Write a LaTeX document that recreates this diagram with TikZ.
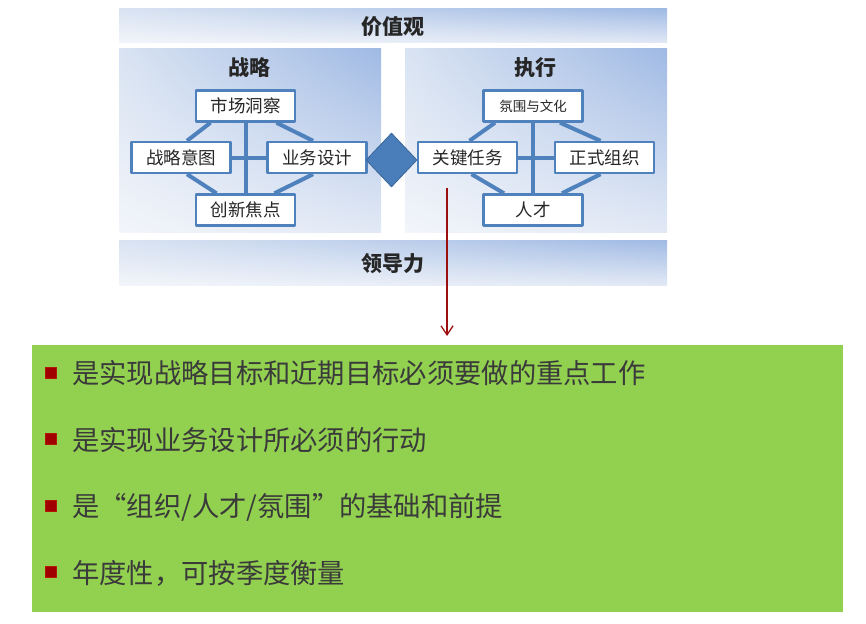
\documentclass[tikz,border=0pt]{standalone}
\usepackage{fontspec}
\setmainfont{Noto Sans CJK SC}
\usetikzlibrary{shapes.geometric,arrows.meta,calc,shadings}
\definecolor{boxblue}{HTML}{4F81BD}
\definecolor{diamondblue}{HTML}{4A7EBB}
\definecolor{bandblue}{HTML}{A0BAE4}
\definecolor{bandmid}{HTML}{D9E3F2}
\definecolor{bandpale}{HTML}{E2E9F5}
\definecolor{bandlight}{HTML}{F2F5FA}
\definecolor{arrowred}{HTML}{9B0F0F}
\definecolor{bulletred}{HTML}{A00000}
\definecolor{panelgreen}{HTML}{92D050}
\definecolor{itemgray}{HTML}{3A3A3A}
\begin{document}
\begin{tikzpicture}[x=1pt, y=-1pt, line join=round,
  band/.style={upper left=bandmid, upper right=bandblue, lower left=bandlight, lower right=bandpale},
  head/.style={font=\fontsize{21}{21}\selectfont\bfseries, text=black!85},
  box/.style={draw=boxblue, line width=2.4pt, fill=white, minimum width=99pt, minimum height=31pt, inner sep=0pt, font=\fontsize{17.5}{17.5}\selectfont, text=black!85},
  link/.style={draw=boxblue, line width=4pt},
  bullet/.style={fill=bulletred, draw=bulletred!80!orange, line width=0.4pt, minimum size=11pt, inner sep=0pt},
  item/.style={anchor=west, inner sep=0pt, font=\fontsize{27.3}{27.3}\selectfont, text=itemgray}]
	\useasboundingbox (0,0) rectangle (866,623);
	% background bands and panels
	\shade[band] (119,9) rectangle (667,43);
	\shade[band] (119,49) rectangle (381,232);
	\shade[band] (405,49) rectangle (667,232);
	\shade[band] (119,240) rectangle (667,285);
	\node[head] (jzg) at (393,27) {价值观};
	\node[head] (zl) at (249,68) {战略};
	\node[head] (zx) at (535,68) {执行};
	\node[head] (ldl) at (393,264) {领导力};
	% strategy
	\node[box] (sc) at (245.5,106) {市场洞察};
	\node[box] (zy) at (181,157.5) {战略意图};
	\node[box] (yw) at (317,157.5) {业务设计};
	\node[box] (cx) at (245.5,210) {创新焦点};
	\draw[link] (sc.south) -- (cx.north) (zy.east) -- (yw.west);
	\draw[link] ($(sc.south)+(-35,0)$) -- ($(zy.north)+(6,0)$);
	\draw[link] ($(sc.south)+(31,0)$) -- ($(yw.north)+(-4,0)$);
	\draw[link] ($(zy.south)+(6,0)$) -- ($(cx.north)+(-29,0)$);
	\draw[link] ($(yw.south)+(-4,0)$) -- ($(cx.north)+(29,0)$);
	% execution
	\node[box, font=\fontsize{13.5}{13.5}\selectfont] (fw) at (533,106) {氛围与文化};
	\node[box] (gj) at (467.5,157.5) {关键任务};
	\node[box] (zs) at (604.5,157.5) {正式组织};
	\node[box] (rc) at (533,210) {人才};
	\draw[link] (fw.south) -- (rc.north) (gj.east) -- (zs.west);
	\draw[link] ($(fw.south)+(-38,0)$) -- ($(gj.north)+(2,0)$);
	\draw[link] ($(fw.south)+(27,0)$) -- ($(zs.north)+(-4,0)$);
	\draw[link] ($(gj.south)+(4,0)$) -- ($(rc.north)+(-29,0)$);
	\draw[link] ($(zs.south)+(-4,0)$) -- ($(rc.north)+(29,0)$);
	\node[diamond, fill=diamondblue, draw=diamondblue!80!black, line width=0.8pt, minimum width=51pt, minimum height=54pt, inner sep=0pt] (dm) at (391.5,160) {};
	% key tasks
	\fill[panelgreen] (32,345) rectangle (843,612);
	\coordinate (tail) at (447,188);
	\coordinate (tip) at (447,336);
	\draw[arrowred, line width=1.3pt, -{Straight Barb[length=9pt,width=12pt]}] (tail) -- (tip);
	\node[bullet] (b1) at (50.5,372.5) {};
	\node[bullet] (b2) at (50.5,439) {};
	\node[bullet] (b3) at (50.5,505.5) {};
	\node[bullet] (b4) at (50.5,572) {};
	\node[item] (t1) at (72,373) {是实现战略目标和近期目标必须要做的重点工作};
	\node[item] (t2) at (72,440) {是实现业务设计所必须的行动};
	\node[item] (t3) at (72,507) {是“组织/人才/氛围”的基础和前提};
	\node[item] (t4) at (72,573) {年度性，可按季度衡量};
\end{tikzpicture}
\end{document}
